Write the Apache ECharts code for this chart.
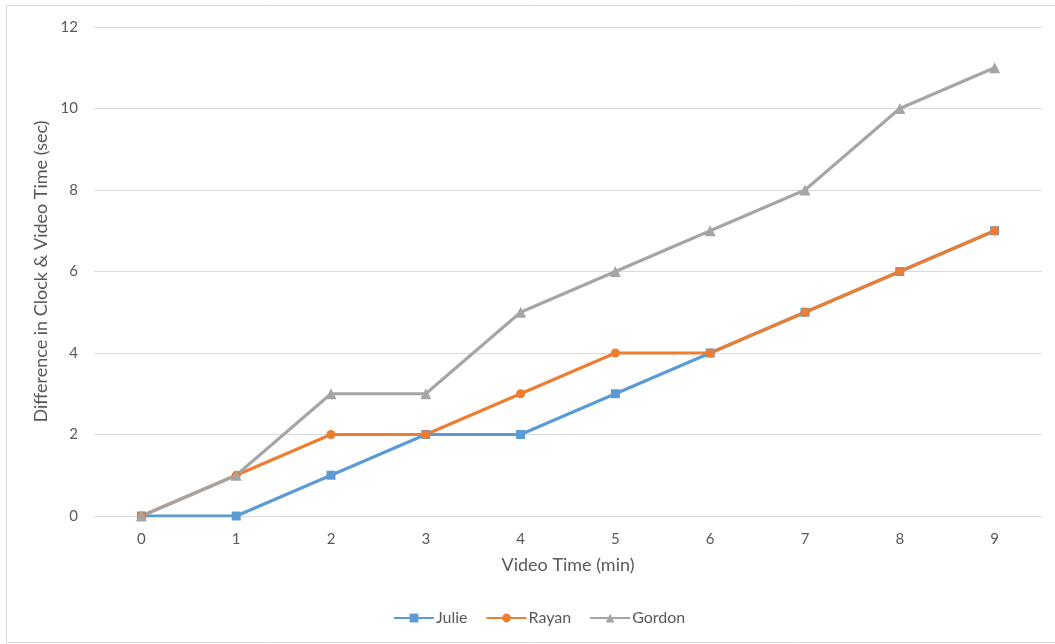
<!DOCTYPE html>
<html>
<head>
<meta charset="utf-8">
<script src="https://cdn.jsdelivr.net/npm/echarts@6/dist/echarts.min.js"></script>
<style>
  html, body { margin: 0; padding: 0; background: #fff; }
  #chart { width: 1055px; height: 644px; }
</style>
</head>
<body>
<div id="chart"></div>
<script>
// Clock drift per observer across the video
const minutes = ['0', '1', '2', '3', '4', '5', '6', '7', '8', '9'];
const julie  = [0, 0, 1, 2, 2, 3, 4, 5, 6, 7];
const rayan  = [0, 1, 2, 2, 3, 4, 4, 5, 6, 7];
const gordon = [0, 1, 3, 3, 5, 6, 7, 8, 10, 11];

const FONT = 'Lato, "Open Sans", sans-serif';
const TEXT = '#595959';

const chart = echarts.init(document.getElementById('chart'), null, { renderer: 'canvas' });

function line(name, data, color, symbol, size) {
  return {
    name, type: 'line', data,
    symbol, symbolSize: size,
    showSymbol: true,
    lineStyle: { color, width: 3 },
    itemStyle: { color },
    z: 2
  };
}

chart.setOption({
  animation: false,
  textStyle: { fontFamily: FONT },
  graphic: [{
    type: 'rect',
    shape: { x: 6.5, y: 5.5, width: 1100, height: 637 },
    style: { fill: 'none', stroke: '#d9d9d9', lineWidth: 1 },
    silent: true
  }],
  grid: { left: 94, right: 13, top: 27, bottom: 128 },
  xAxis: {
    type: 'category',
    data: minutes,
    boundaryGap: true,
    name: 'Video Time (min)',
    nameLocation: 'middle',
    nameGap: 40,
    nameTextStyle: { color: TEXT, fontSize: 18, fontFamily: FONT },
    axisLine: { show: false },
    axisTick: { show: false },
    axisLabel: { color: TEXT, fontSize: 15, margin: 16, fontFamily: FONT }
  },
  yAxis: {
    type: 'value',
    min: 0, max: 12, interval: 2,
    name: 'Difference in Clock & Video Time (sec)',
    nameLocation: 'middle',
    nameGap: 41,
    nameTextStyle: { color: TEXT, fontSize: 18, fontFamily: FONT },
    axisLine: { show: false },
    axisTick: { show: false },
    axisLabel: { color: TEXT, fontSize: 15, margin: 16, fontFamily: FONT },
    splitLine: { lineStyle: { color: '#d9d9d9', width: 1 } }
  },
  legend: {
    top: 605,
    left: 388,
    itemWidth: 40, itemHeight: 11, itemGap: 18,
    textStyle: { color: TEXT, fontSize: 16, fontFamily: FONT, padding: [0, 0, 0, -3] },
    data: ['Julie', 'Rayan', 'Gordon']
  },
  series: [
    line('Julie', julie, '#5B9BD5', 'rect', 9),
    line('Rayan', rayan, '#ED7D31', 'circle', 9),
    line('Gordon', gordon, '#A5A5A5', 'triangle', 11)
  ]
});
</script>
</body>
</html>
